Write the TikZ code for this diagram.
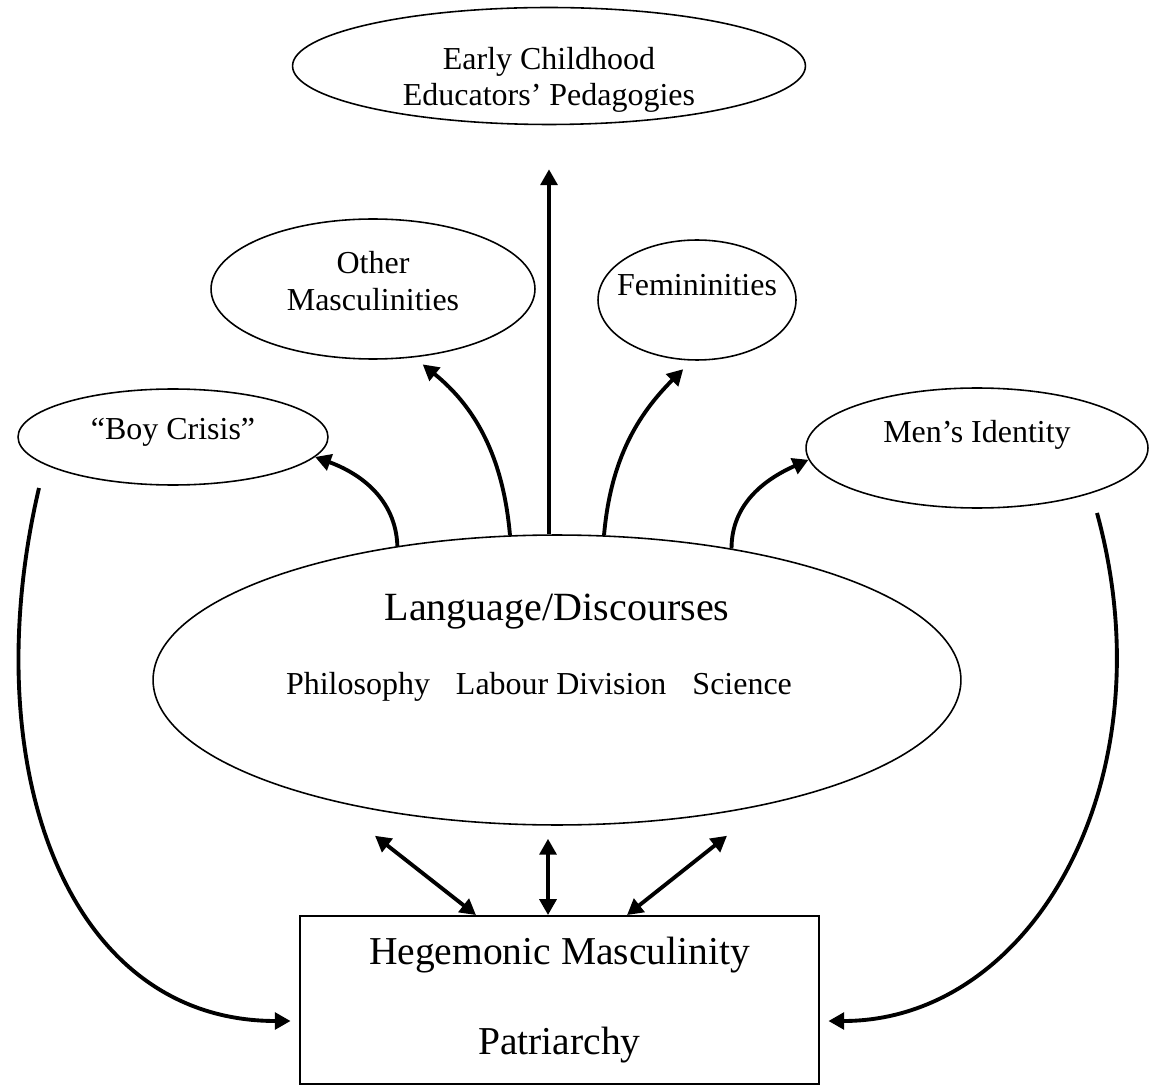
\documentclass[tikz,border=0pt]{standalone}
\usepackage{fontspec}
\setmainfont{Liberation Serif}
\usetikzlibrary{shapes.geometric,arrows.meta,calc}

\begin{document}
\begin{tikzpicture}[x=0.02cm, y=0.02cm]

\tikzset{
  bubble/.style={ellipse, draw, line width=0.9pt, inner sep=0pt},
  caption/.style={inner sep=0pt, align=center, font=\fontsize{18.2}{20.8}\selectfont},
  frame/.style={rectangle, draw, line width=1.1pt, inner sep=0pt, align=center, font=\fontsize{22.5}{51}\selectfont},
  flow/.style={line width=2.2pt, -{Triangle[length=9pt,width=9.5pt]}},
  link/.style={line width=2.2pt, {Triangle[length=9pt,width=9.5pt]}-{Triangle[length=9pt,width=9.5pt]}},
}

\useasboundingbox (0,0) rectangle (1149,-1087);

% ellipses
\node[bubble, minimum width=10.26cm, minimum height=2.34cm, name=early] at (549,-66) {};
\node[bubble, minimum width=6.48cm, minimum height=2.8cm, name=other] at (373,-289) {};
\node[bubble, minimum width=3.96cm, minimum height=2.4cm, name=fem] at (697,-300) {};
\node[bubble, minimum width=6.2cm, minimum height=1.92cm, name=boy] at (173,-437) {};
\node[bubble, minimum width=6.84cm, minimum height=2.4cm, name=men] at (977,-448) {};
\node[bubble, minimum width=16.16cm, minimum height=5.8cm, name=lang] at (557,-680) {};
\node[frame, minimum width=10.4cm, minimum height=3.36cm, name=box] at (559.5,-1000) {Hegemonic Masculinity\\Patriarchy};

% texts
\node[caption, name=earlyText] at ($(early)+(0,-14)$) {Early Childhood\\Educators’ Pedagogies};
\node[caption, name=otherText] at ($(other)+(0,8)$) {Other\\Masculinities};
\node[caption, name=femText] at ($(fem)+(0,15)$) {Femininities};
\node[caption, name=boyText] at ($(boy)+(0,5)$) {“Boy Crisis”};
\node[caption, name=menText] at ($(men)+(0,13)$) {Men’s Identity};
\node[caption, font=\fontsize{22.8}{26}\selectfont, name=langTitle] at ($(lang)+(0,68)$) {Language/Discourses};
\node[caption, name=langTopics] at ($(lang)+(-18,-7)$) {Philosophy\hspace{0.52cm}Labour Division\hspace{0.52cm}Science};

% arrows out of the discourses
\draw[flow] (lang.140) to[out=92, in=-20] (boy.-8);
\draw[flow, shorten >=0.22cm] (lang.108) to[out=95, in=-39] (other.-59);
\draw[flow, shorten >=0.88cm] (lang.north -| early.south) -- (early.south);
\draw[flow, shorten >=0.24cm] (lang.72.6) to[out=85, in=-135] (fem.-95);
\draw[flow] (lang.37.5) to[out=90, in=-156] (men.184);

% long curves into the box
\coordinate (boyFoot) at ($(boy)+(-134,-51)$);
\coordinate (menFoot) at ($(men)+(120,-65)$);
\draw[flow, shorten >=0.16cm] (boyFoot) .. controls +(-64,-272) and +(-236,0) .. ($(box.west)+(0,-21)$);
\draw[flow, shorten >=0.16cm] (menFoot) .. controls +(73,-267) and +(212,0) .. ($(box.east)+(0,-21)$);

% two-way links
\coordinate (linkL) at ($(lang.south)+(-182,-10)$);
\coordinate (linkM) at ($(lang.south)+(-9,-13)$);
\coordinate (linkR) at ($(lang.south)+(170,-10)$);
\draw[link] (linkL) -- ($(box.north)+(-83.5,0)$);
\draw[link] (linkM) -- ($(box.north)+(-11.5,0)$);
\draw[link] (linkR) -- ($(box.north)+(67.5,0)$);

\end{tikzpicture}
\end{document}
